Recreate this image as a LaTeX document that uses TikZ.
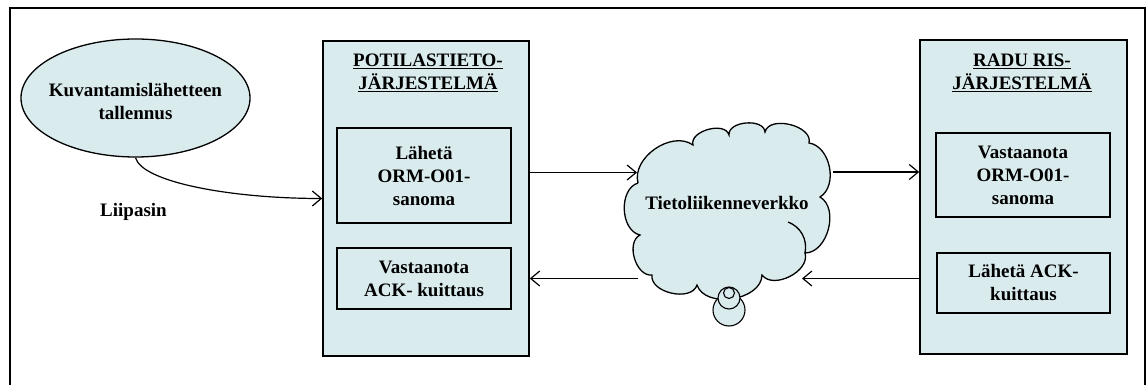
\documentclass[tikz,border=0pt]{standalone}
\usepackage{fontspec}
\setmainfont{Liberation Serif}
\usetikzlibrary{arrows.meta,calc,shapes.geometric}
\definecolor{boxfill}{RGB}{218,235,238}
\tikzset{
  every node/.style={font=\fontsize{19}{23}\selectfont\bfseries, align=center},
  sysbox/.style={draw, line width=1.6pt, fill=boxfill, minimum width=206pt, minimum height=315pt, inner sep=0pt},
  taskbox/.style={draw, line width=1.4pt, fill=boxfill, inner sep=0pt},
  flow/.style={line width=1.2pt, -{Straight Barb[length=9pt,width=15pt,line width=1.2pt]}},
  puff/.style={line width=1.3pt},
}
\begin{document}
\begin{tikzpicture}[x=1pt,y=-1pt]
\useasboundingbox (0,0) rectangle (1148,385);
% outer frame
\draw[line width=1.6pt] (10,392) -- (10,8) -- (1145,8) -- (1145,392);

% originating event
\node[draw, ellipse, line width=1.3pt, fill=boxfill, minimum width=229pt, minimum height=118pt, inner sep=0pt] (ell) at (135.5,98) {};
\node (elltext) at (135.5,102) {Kuvantamislähetteen\\tallennus};
\node (trig) at (133.5,212) {Liipasin};

% sending system
\node[sysbox] (lbox) at (426,198.5) {};
\node (ltitle) at (428,73) {\underline{POTILASTIETO-}\\\underline{JÄRJESTELMÄ}};
\node[taskbox, minimum width=174pt, minimum height=95pt] (lb1) at (424,175.5) {Lähetä\\ORM-O01-\\sanoma};
\node[taskbox, minimum width=174pt, minimum height=61pt] (lb2) at (424,278.5) {Vastaanota\\ACK- kuittaus};

% receiving system
\node[sysbox, minimum width=207pt, minimum height=314pt] (rbox) at (1023.5,197) {};
\node (rtitle) at (1022,73) {\underline{RADU RIS-}\\\underline{JÄRJESTELMÄ}};
\node[taskbox, minimum width=174pt, minimum height=84pt] (rb1) at (1023,175) {Vastaanota\\ORM-O01-\\sanoma};
\node[taskbox, minimum width=173pt, minimum height=60pt] (rb2) at (1023.5,283) {Lähetä ACK-\\kuittaus};

% network cloud
\coordinate (p1) at (638,183);
\coordinate (p2) at (693,145);
\coordinate (p3) at (729,135);
\coordinate (p4) at (765,132);
\coordinate (p5) at (809,143);
\coordinate (p6) at (820,197);
\coordinate (p7) at (805,253);
\coordinate (p8) at (762,275);
\coordinate (p9) at (697,285);
\coordinate (p10) at (652,275);
\coordinate (p11) at (640,235);
\fill[boxfill] (p1) to[bend left=70] (p2) to[bend left=90] (p3) to[bend left=90] (p4)
  to[bend left=90] (p5) to[bend left=70] (p6) to[bend left=75] (p7) to[bend left=80] (p8)
  to[bend left=80] (p9) to[bend left=85] (p10) to[bend left=80] (p11) to[bend left=75] (p1) -- cycle;
\draw[puff] (p1) to[bend left=70] (p2) to[bend left=90] (p3) to[bend left=90] (p4)
  to[bend left=90] (p5) to[bend left=70] (p6) to[bend left=75] (p7) to[bend left=80] (p8)
  to[bend left=80] (p9) to[bend left=85] (p10) to[bend left=80] (p11) to[bend left=75] (p1);
\draw[puff] (788,222) to[bend left=40] (p7);
\node (net) at (727,203) {Tietoliikenneverkko};
% callout bubbles
\node[draw, circle, line width=1.1pt, fill=boxfill, minimum size=32pt, inner sep=0pt] (c1) at (729,310) {};
\node[draw, circle, line width=1.1pt, fill=boxfill, minimum size=22pt, inner sep=0pt] (c2) at (729,298) {};
\node[draw, circle, line width=1.1pt, fill=boxfill, minimum size=11pt, inner sep=0pt] (c3) at (729,293) {};

% connection points on the cloud
\coordinate (cinl) at (637,172.5);
\coordinate (coutl) at (638,278.5);
\coordinate (coutr) at (833,172);
\coordinate (cinr) at (802,278.5);

% message flows
\draw[flow] (ell.south) .. controls (142,182) and (230,198.5) .. (lbox.west);
\draw[flow] (lbox.east |- cinl) -- (cinl);
\draw[flow] (coutr) -- (rbox.west |- coutr);
\draw[flow] (rbox.west |- cinr) -- (cinr);
\draw[flow] (coutl) -- (lbox.east |- coutl);
\end{tikzpicture}
\end{document}
